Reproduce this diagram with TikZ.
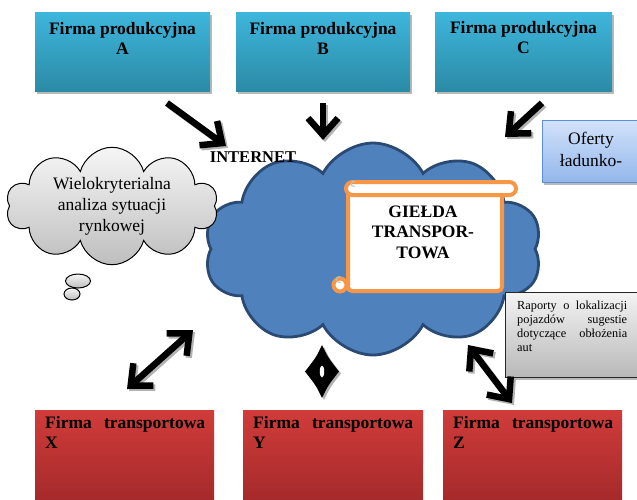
\documentclass[tikz,border=0pt]{standalone}
\usepackage{fontspec}
\setmainfont{Liberation Serif}
\usetikzlibrary{shapes.symbols,arrows.meta,shadows,calc}
\definecolor{topT}{HTML}{3EB6DC}
\definecolor{topB}{HTML}{2B8BA6}
\definecolor{redT}{HTML}{D03C3A}
\definecolor{redB}{HTML}{A3292A}
\definecolor{cloudblue}{HTML}{4F81BD}
\definecolor{cloudedge}{HTML}{2A4A73}
\definecolor{scrollorange}{HTML}{F79646}
\definecolor{ofT}{HTML}{D3E2FA}
\definecolor{ofB}{HTML}{93B7EC}
\definecolor{ofE}{HTML}{5B8FDB}
\definecolor{rapT}{HTML}{F4F4F4}
\definecolor{rapB}{HTML}{B8B8B8}
\definecolor{thT}{HTML}{F6F6F6}
\definecolor{thB}{HTML}{BEBEBE}
\tikzset{
  myshadow/.style={drop shadow={shadow xshift=2pt,shadow yshift=-3pt,fill=gray!55,opacity=1}},
  topbox/.style={top color=topT,bottom color=topB,myshadow},
  redbox/.style={top color=redT,bottom color=redB},
  boxtxt/.style={font=\fontsize{17.5}{20}\selectfont\bfseries,align=center,inner sep=0pt},
  redtxt/.style={font=\fontsize{17.5}{20}\selectfont\bfseries,align=left,inner sep=0pt,anchor=north west},
  barb/.style={line width=6.5pt,-{Straight Barb[length=17pt,width=30pt]}},
  dbarb/.style={line width=6.5pt,{Straight Barb[length=17pt,width=30pt]}-{Straight Barb[length=17pt,width=30pt]}},
  shadowed/.style={draw=gray!60,transform canvas={xshift=2pt,yshift=-2pt}},
  scroll/.style={draw=scrollorange,line width=4pt,fill=white},
}
\begin{document}
\begin{tikzpicture}[x=1pt,y=-1pt]
\useasboundingbox (0,0) rectangle (637,499);
% top boxes
\path[topbox] (35,12) rectangle (210,91);
\path[topbox] (236,12) rectangle (410,91);
\path[topbox] (435,12) rectangle (612,91);
\node[boxtxt] (A) at (122.5,38) {Firma produkcyjna\\A};
\node[boxtxt] (B) at (323,38) {Firma produkcyjna\\B};
\node[boxtxt] (C) at (523.5,38) {Firma produkcyjna\\C};
% bottom boxes
\path[redbox] (35,410) rectangle (214,505);
\path[redbox] (243,410) rectangle (423,505);
\path[redbox] (443,410) rectangle (622,505);
\node[redtxt] (X) at (45,416) {\makebox[160pt][s]{Firma transportowa}\\X};
\node[redtxt] (Y) at (253,416) {\makebox[160pt][s]{Firma transportowa}\\Y};
\node[redtxt] (Z) at (453,416) {\makebox[160pt][s]{Firma transportowa}\\Z};
% main cloud
\node[cloud,cloud puffs=10,cloud puff arc=125,cloud ignores aspect,draw=cloudedge,line width=2.8pt,fill=cloudblue,
      minimum width=338pt,minimum height=212pt,inner sep=0pt] (net) at (373,249) {};
% thought cloud
\node[cloud,cloud puffs=10,cloud ignores aspect,draw=black,line width=1pt,top color=thT,bottom color=thB,
      minimum width=212pt,minimum height=112pt,inner sep=0pt,align=center,
      font=\fontsize{17.5}{21}\selectfont] (think) at (112,206) {Wielokryterialna\\analiza sytuacji\\rynkowej};
\draw[line width=1pt,top color=thT,bottom color=thB] (78,281) ellipse (12.5 and 7);
\draw[line width=1pt,top color=thT,bottom color=thB] (72,294) ellipse (8 and 6);
% scroll
\draw[scroll] (340,285) circle (6.5);
\draw[scroll,rounded corners=4pt] (348,186) rectangle (502,291);
\draw[scroll,rounded corners=6.5pt] (346,182) rectangle (516,195);
\draw[gray!50,line width=1pt] (355,186) arc (60:300:2.5);
\draw[gray!50,line width=1pt] (341,282) arc (60:300:3);
\node[font=\fontsize{17.5}{20.5}\selectfont\bfseries,align=center,inner sep=0pt] (gielda) at (423,232) {GIEŁDA\\TRANSPOR-\\TOWA};
% internet label
\node[font=\fontsize{16.5}{18}\selectfont\bfseries,inner sep=0pt] (internet) at (253,157) {INTERNET};
% side boxes
\path[top color=ofT,bottom color=ofB,draw=ofE,line width=1pt,myshadow] (542,120) rectangle (660,182);
\node[font=\fontsize{17.5}{22}\selectfont,align=center,inner sep=0pt] (oferty) at (591,149) {Oferty\\ładunko-};
\path[top color=rapT,bottom color=rapB,draw=black!85,line width=1pt,myshadow] (505,292) rectangle (660,377);
\node[font=\fontsize{12.3}{14}\selectfont,align=left,inner sep=0pt,anchor=north west] (raport) at (517,301)
  {\makebox[110pt][s]{Raporty o lokalizacji}\\\makebox[110pt][s]{pojazdów sugestie}\\\makebox[110pt][s]{dotyczące obłożenia}\\aut};
% arrow end coordinates
\coordinate (a1) at (167,103); \coordinate (a2) at (226,146);
\coordinate (b1) at (323,103); \coordinate (b2) at (323,140);
\coordinate (c1) at (542,103); \coordinate (c2) at (505,137);
\coordinate (x1) at (127,389); \coordinate (x2) at (193,330);
\coordinate (y1) at (322,345); \coordinate (y2) at (322,398);
\coordinate (z1) at (468,345); \coordinate (z2) at (512,403);
\coordinate (ym) at ($(y1)!0.5!(y2)$);
% arrows with shadows
\draw[barb,shadowed] (a1) -- (a2);
\draw[barb,shadowed] (b1) -- (b2);
\draw[barb,shadowed] (c1) -- (c2);
\draw[dbarb,shadowed] (x1) -- (x2);
\draw[dbarb,shadowed] (z1) -- (z2);
\fill[gray!60,transform canvas={xshift=2pt,yshift=-2pt}] (y1) .. controls ($(ym)+(6,-14)$) .. ($(ym)+(17,0)$)
   .. controls ($(ym)+(6,14)$) .. (y2) .. controls ($(ym)+(-6,14)$) .. ($(ym)+(-17,0)$)
   .. controls ($(ym)+(-6,-14)$) .. (y1);
\draw[barb] (a1) -- (a2);
\draw[barb] (b1) -- (b2);
\draw[barb] (c1) -- (c2);
\draw[dbarb] (x1) -- (x2);
\draw[dbarb] (z1) -- (z2);
\fill[black] (y1) .. controls ($(ym)+(6,-14)$) .. ($(ym)+(17,0)$)
   .. controls ($(ym)+(6,14)$) .. (y2) .. controls ($(ym)+(-6,14)$) .. ($(ym)+(-17,0)$)
   .. controls ($(ym)+(-6,-14)$) .. (y1);
\fill[white] (ym) ellipse (2.2 and 6);
\end{tikzpicture}
\end{document}
